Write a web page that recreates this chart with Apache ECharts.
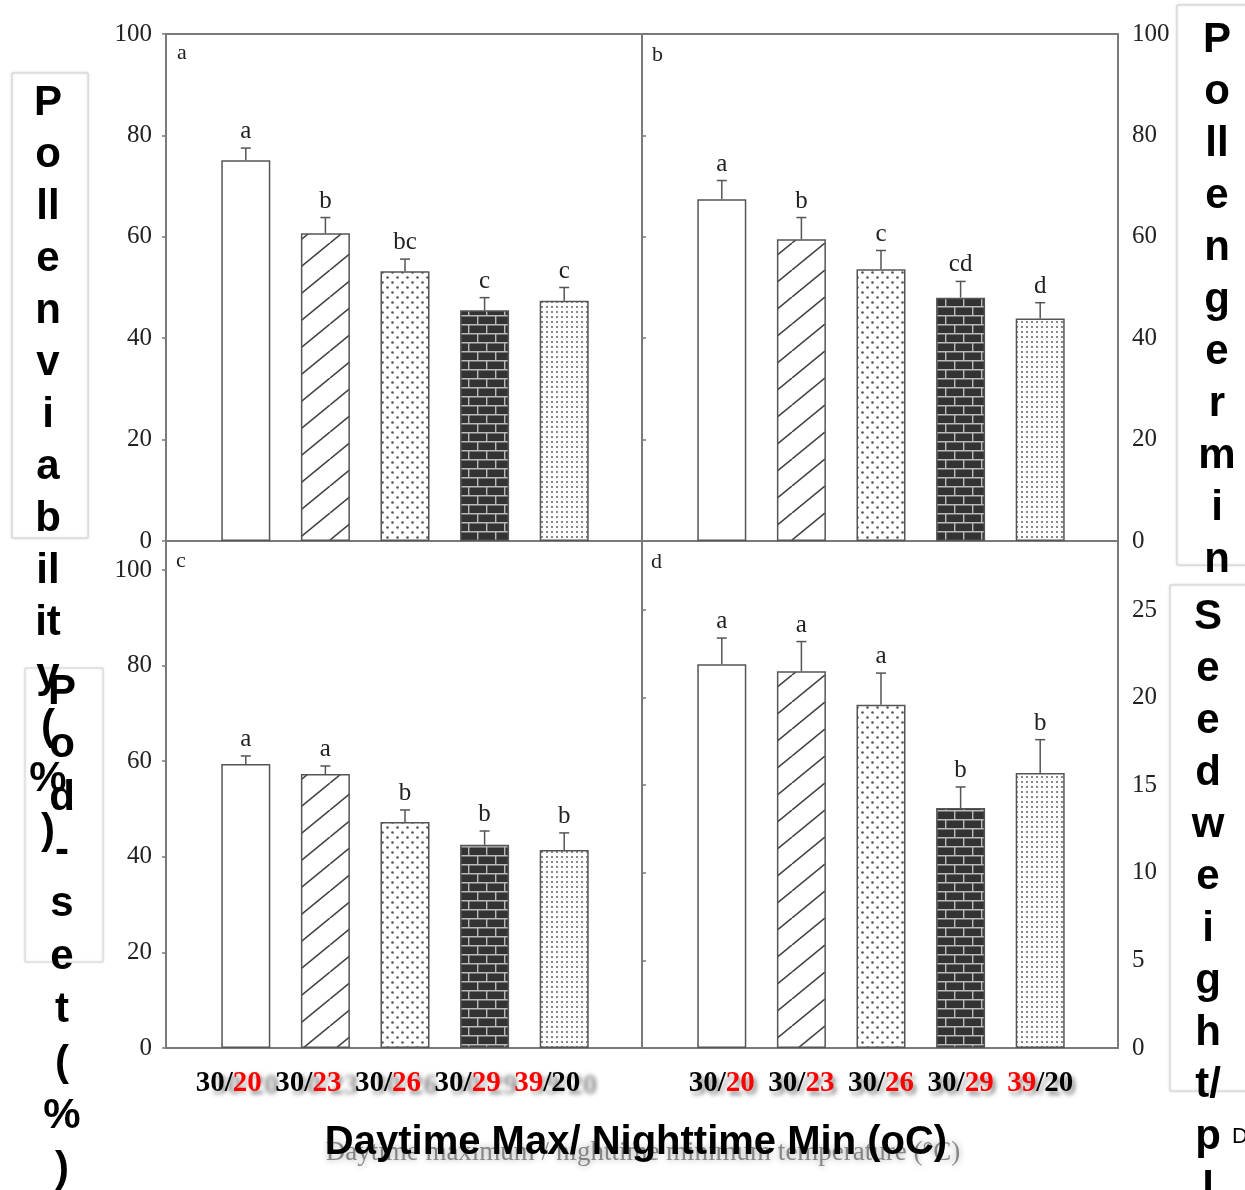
<!DOCTYPE html>
<html>
<head>
    <meta charset="utf-8">
    <title>Temperature effects</title>
    <script src="https://cdn.jsdelivr.net/npm/echarts@6.0.0/dist/echarts.min.js"></script>
    <style>
        html, body { height: 100%; margin: 0; padding: 0; background: #fff; }
    </style>
</head>
<body>
<div id="chart-box" style="width:1245px; height:1190px;"></div>
<script type="text/javascript">
    // treatments, which part of each label is red (0 = day, 1 = night)
    const categories = ["30/20", "30/23", "30/26", "30/29", "39/20"];
    const redPart = [1, 1, 1, 1, 0];

    // a: pollen viability (%)
    const viability = [75.1, 60.7, 53.2, 45.5, 47.4];
    const viabilityErr = [2.4, 3.1, 2.4, 2.5, 2.6];
    const viabilityLetters = ["a", "b", "bc", "c", "c"];
    // b: pollen germination (%)
    const germination = [67.4, 59.5, 53.6, 48.0, 43.9];
    const germinationErr = [3.7, 4.3, 3.7, 3.2, 3.1];
    const germinationLetters = ["a", "b", "c", "cd", "d"];
    // c: pod-set (%)
    const podSet = [59.4, 57.3, 47.3, 42.5, 41.4];
    const podSetErr = [1.7, 1.7, 2.5, 2.9, 3.6];
    const podSetLetters = ["a", "a", "b", "b", "b"];
    // d: seed weight / plant (g)
    const seedWeight = [21.9, 21.5, 19.6, 13.7, 15.7];
    const seedWeightErr = [1.5, 1.7, 1.8, 1.2, 1.9];
    const seedWeightLetters = ["a", "a", "a", "b", "b"];

    const chart = echarts.init(document.getElementById("chart-box"));

    // bar fill patterns
    function tile(w, h, draw) {
        const c = document.createElement("canvas");
        c.width = w; c.height = h;
        const ctx = c.getContext("2d");
        ctx.fillStyle = "#fff";
        ctx.fillRect(0, 0, w, h);
        draw(ctx, w, h);
        return { image: c, repeat: "repeat" };
    }
    const patterns = [
        "#fff",
        tile(33, 27, (ctx, w, h) => {
            ctx.strokeStyle = "#444"; ctx.lineWidth = 1.6;
            ctx.beginPath();
            ctx.moveTo(-w, h); ctx.lineTo(0, 0);
            ctx.moveTo(0, h); ctx.lineTo(w, 0);
            ctx.moveTo(w, h); ctx.lineTo(2 * w, 0);
            ctx.stroke();
        }),
        tile(10, 10, ctx => {
            ctx.fillStyle = "#555";
            ctx.beginPath(); ctx.arc(2.5, 2.5, 1.3, 0, Math.PI * 2); ctx.fill();
            ctx.beginPath(); ctx.arc(7.5, 7.5, 1.3, 0, Math.PI * 2); ctx.fill();
        }),
        tile(18, 18, ctx => {
            ctx.fillStyle = "#333"; ctx.fillRect(0, 0, 18, 18);
            ctx.strokeStyle = "#bbb"; ctx.lineWidth = 1.4;
            ctx.beginPath();
            ctx.moveTo(0, 0.7); ctx.lineTo(18, 0.7);
            ctx.moveTo(0, 9.7); ctx.lineTo(18, 9.7);
            ctx.moveTo(0.7, 0); ctx.lineTo(0.7, 9);
            ctx.moveTo(9.7, 9); ctx.lineTo(9.7, 18);
            ctx.stroke();
        }),
        tile(5, 5, ctx => {
            ctx.fillStyle = "#888"; ctx.fillRect(1, 1, 2, 2);
        })
    ];

    const panels = [
        { values: viability, err: viabilityErr, letters: viabilityLetters, left: 166, top: 34, side: "left", max: 100, interval: 20 },
        { values: germination, err: germinationErr, letters: germinationLetters, left: 642, top: 34, side: "right", max: 100, interval: 20 },
        { values: podSet, err: podSetErr, letters: podSetLetters, left: 166, top: 541, side: "left", max: 106.07, interval: 20, labels: true, shift: 34, ghost: [17, 3] },
        { values: seedWeight, err: seedWeightErr, letters: seedWeightLetters, left: 642, top: 541, side: "right", max: 28.94, interval: 5, labels: true, shift: 0, ghost: [3, 4] }
    ];

    const serif = '"Liberation Serif", "Times New Roman", serif';
    const sans = '"Liberation Sans", Arial, sans-serif';

    const grid = [], xAxis = [], yAxis = [], series = [];
    panels.forEach((p, i) => {
        // frame grid with the value axis
        grid.push({ left: p.left, top: p.top, width: 476, height: 507, show: true, borderColor: "#7a7a7a", borderWidth: 2, backgroundColor: "transparent" });
        xAxis.push({ gridIndex: i, type: "value", show: false, min: 0, max: 1 });
        yAxis.push({
            gridIndex: i, type: "value", position: p.side, min: 0, max: p.max, interval: p.interval,
            axisLine: { show: false },
            axisTick: { show: true, length: 4, lineStyle: { color: "#7a7a7a", width: 1.5 } },
            splitLine: { show: false },
            axisLabel: { margin: 14, color: "#222", fontFamily: serif, fontSize: 25, showMaxLabel: p.max % p.interval === 0 }
        });
    });
    panels.forEach((p, i) => {
        const g = 4 + i;
        // inner grid holding the bars
        grid.push({ left: p.left + 40, top: p.top, width: 398, height: 507 });
        const shadow = p.labels ? {
            textShadowColor: "rgba(0,0,0,0.45)", textShadowBlur: 4,
            textShadowOffsetX: p.ghost[0], textShadowOffsetY: p.ghost[1]
        } : {};
        xAxis.push({
            gridIndex: g, type: "category", data: categories,
            axisLine: { show: false }, axisTick: { show: false },
            axisLabel: p.labels ? {
                interval: 0,
                hideOverlap: false,
                margin: 21,
                padding: [0, p.shift, 0, 0],
                formatter: (val, idx) => {
                    const parts = val.split("/");
                    return redPart[idx] === 1
                        ? "{k|" + parts[0] + "/}{r|" + parts[1] + "}"
                        : "{r|" + parts[0] + "}{k|/" + parts[1] + "}";
                },
                rich: {
                    k: Object.assign({ color: "#000", fontFamily: serif, fontWeight: "bold", fontSize: 29 }, shadow),
                    r: Object.assign({ color: "#f00", fontFamily: serif, fontWeight: "bold", fontSize: 29 }, shadow)
                }
            } : { show: false }
        });
        yAxis.push({ gridIndex: g, type: "value", show: false, min: 0, max: p.max });

        series.push({
            type: "bar",
            xAxisIndex: g, yAxisIndex: g,
            barWidth: 49,
            itemStyle: { borderColor: "#555", borderWidth: 1.5 },
            data: p.values.map((v, k) => ({ value: v, itemStyle: { color: patterns[k] } }))
        });
        series.push({
            type: "custom",
            xAxisIndex: g, yAxisIndex: g,
            z: 5,
            renderItem: (params, api) => {
                const x = api.value(0), v = api.value(1), e = api.value(2);
                const base = api.coord([x, v]);
                const top = api.coord([x, v + e]);
                const line = { stroke: "#555", lineWidth: 1.5 };
                return {
                    type: "group",
                    children: [
                        { type: "line", shape: { x1: base[0], y1: base[1], x2: top[0], y2: top[1] }, style: line },
                        { type: "line", shape: { x1: top[0] - 5, y1: top[1], x2: top[0] + 5, y2: top[1] }, style: line },
                        { type: "text", x: top[0], y: top[1] - 4,
                          style: { text: p.letters[params.dataIndex], fill: "#222", font: "25px " + serif, align: "center", verticalAlign: "bottom" } }
                    ]
                };
            },
            data: p.values.map((v, k) => [k, v, p.err[k]])
        });
    });

    // vertical titles sitting in text boxes, one letter group per line
    const boxText = (x, y, lines, lh, z) => ({
        type: "text", x: x, y: y, z: z,
        style: { text: lines.join("\n"), font: "bold 42px " + sans, fill: "#000", align: "center", verticalAlign: "top", lineHeight: lh }
    });
    const box = (x, y, w, h, fill, z) => ({
        type: "rect", z: z, shape: { x: x, y: y, width: w, height: h },
        style: { fill: fill, stroke: "#d0d0d0", lineWidth: 1, shadowBlur: 3, shadowColor: "rgba(0,0,0,0.15)" }
    });
    const tag = (x, y, t) => ({
        type: "text", x: x, y: y, z: 100,
        style: { text: t, font: "22px " + serif, fill: "#222", align: "left", verticalAlign: "middle" }
    });

    const graphic = [
        tag(177, 53, "a"),
        tag(652, 55, "b"),
        tag(176, 561, "c"),
        tag(651, 562, "d"),

        { type: "text", x: 643, y: 1153, z: 100,
          style: { text: "Daytime maximum / nighttime minimum temperature (\u00B0C)", font: "27px " + serif, fill: "rgba(70,70,70,0.6)",
                   align: "center", verticalAlign: "middle", textShadowBlur: 6, textShadowColor: "rgba(70,70,70,0.8)" } },
        { type: "text", x: 636, y: 1143, z: 110,
          style: { text: "Daytime Max/ Nighttime Min (oC)", font: "bold 40px " + sans, fill: "#000", align: "center", verticalAlign: "middle" } },

        box(12, 73, 76, 465, "#fff", 110),
        box(1177, 5, 80, 560, "#fff", 110),
        boxText(1217, 14, ["P", "o", "ll", "e", "n", "g", "e", "r", "m", "i", "n", "a", "ti", "o", "n", "(", "%", ")"], 52, 111),
        box(1170, 585, 90, 506, "#fff", 121),
        boxText(1208, 591, ["S", "e", "e", "d", "w", "e", "i", "g", "h", "t/", "p", "l", "a", "n", "t", "(", "g", ")"], 52, 122),
        { type: "text", x: 1232, y: 1137, z: 122, style: { text: "Daytime Max/ Nighttime Min (oC)", font: "22px " + sans, fill: "#000", align: "left", verticalAlign: "middle" } },
        box(25, 668, 78, 294, "transparent", 111),
        boxText(48, 77, ["P", "o", "ll", "e", "n", "v", "i", "a", "b", "il", "it", "y", "(", "%", ")"], 52, 112),
        boxText(62, 666, ["P", "o", "d", "-", "s", "e", "t", "(", "%", ")"], 53, 113)
    ];

    chart.setOption({
        animation: false,
        grid: grid,
        xAxis: xAxis,
        yAxis: yAxis,
        series: series,
        graphic: graphic
    });
</script>
</body>
</html>
